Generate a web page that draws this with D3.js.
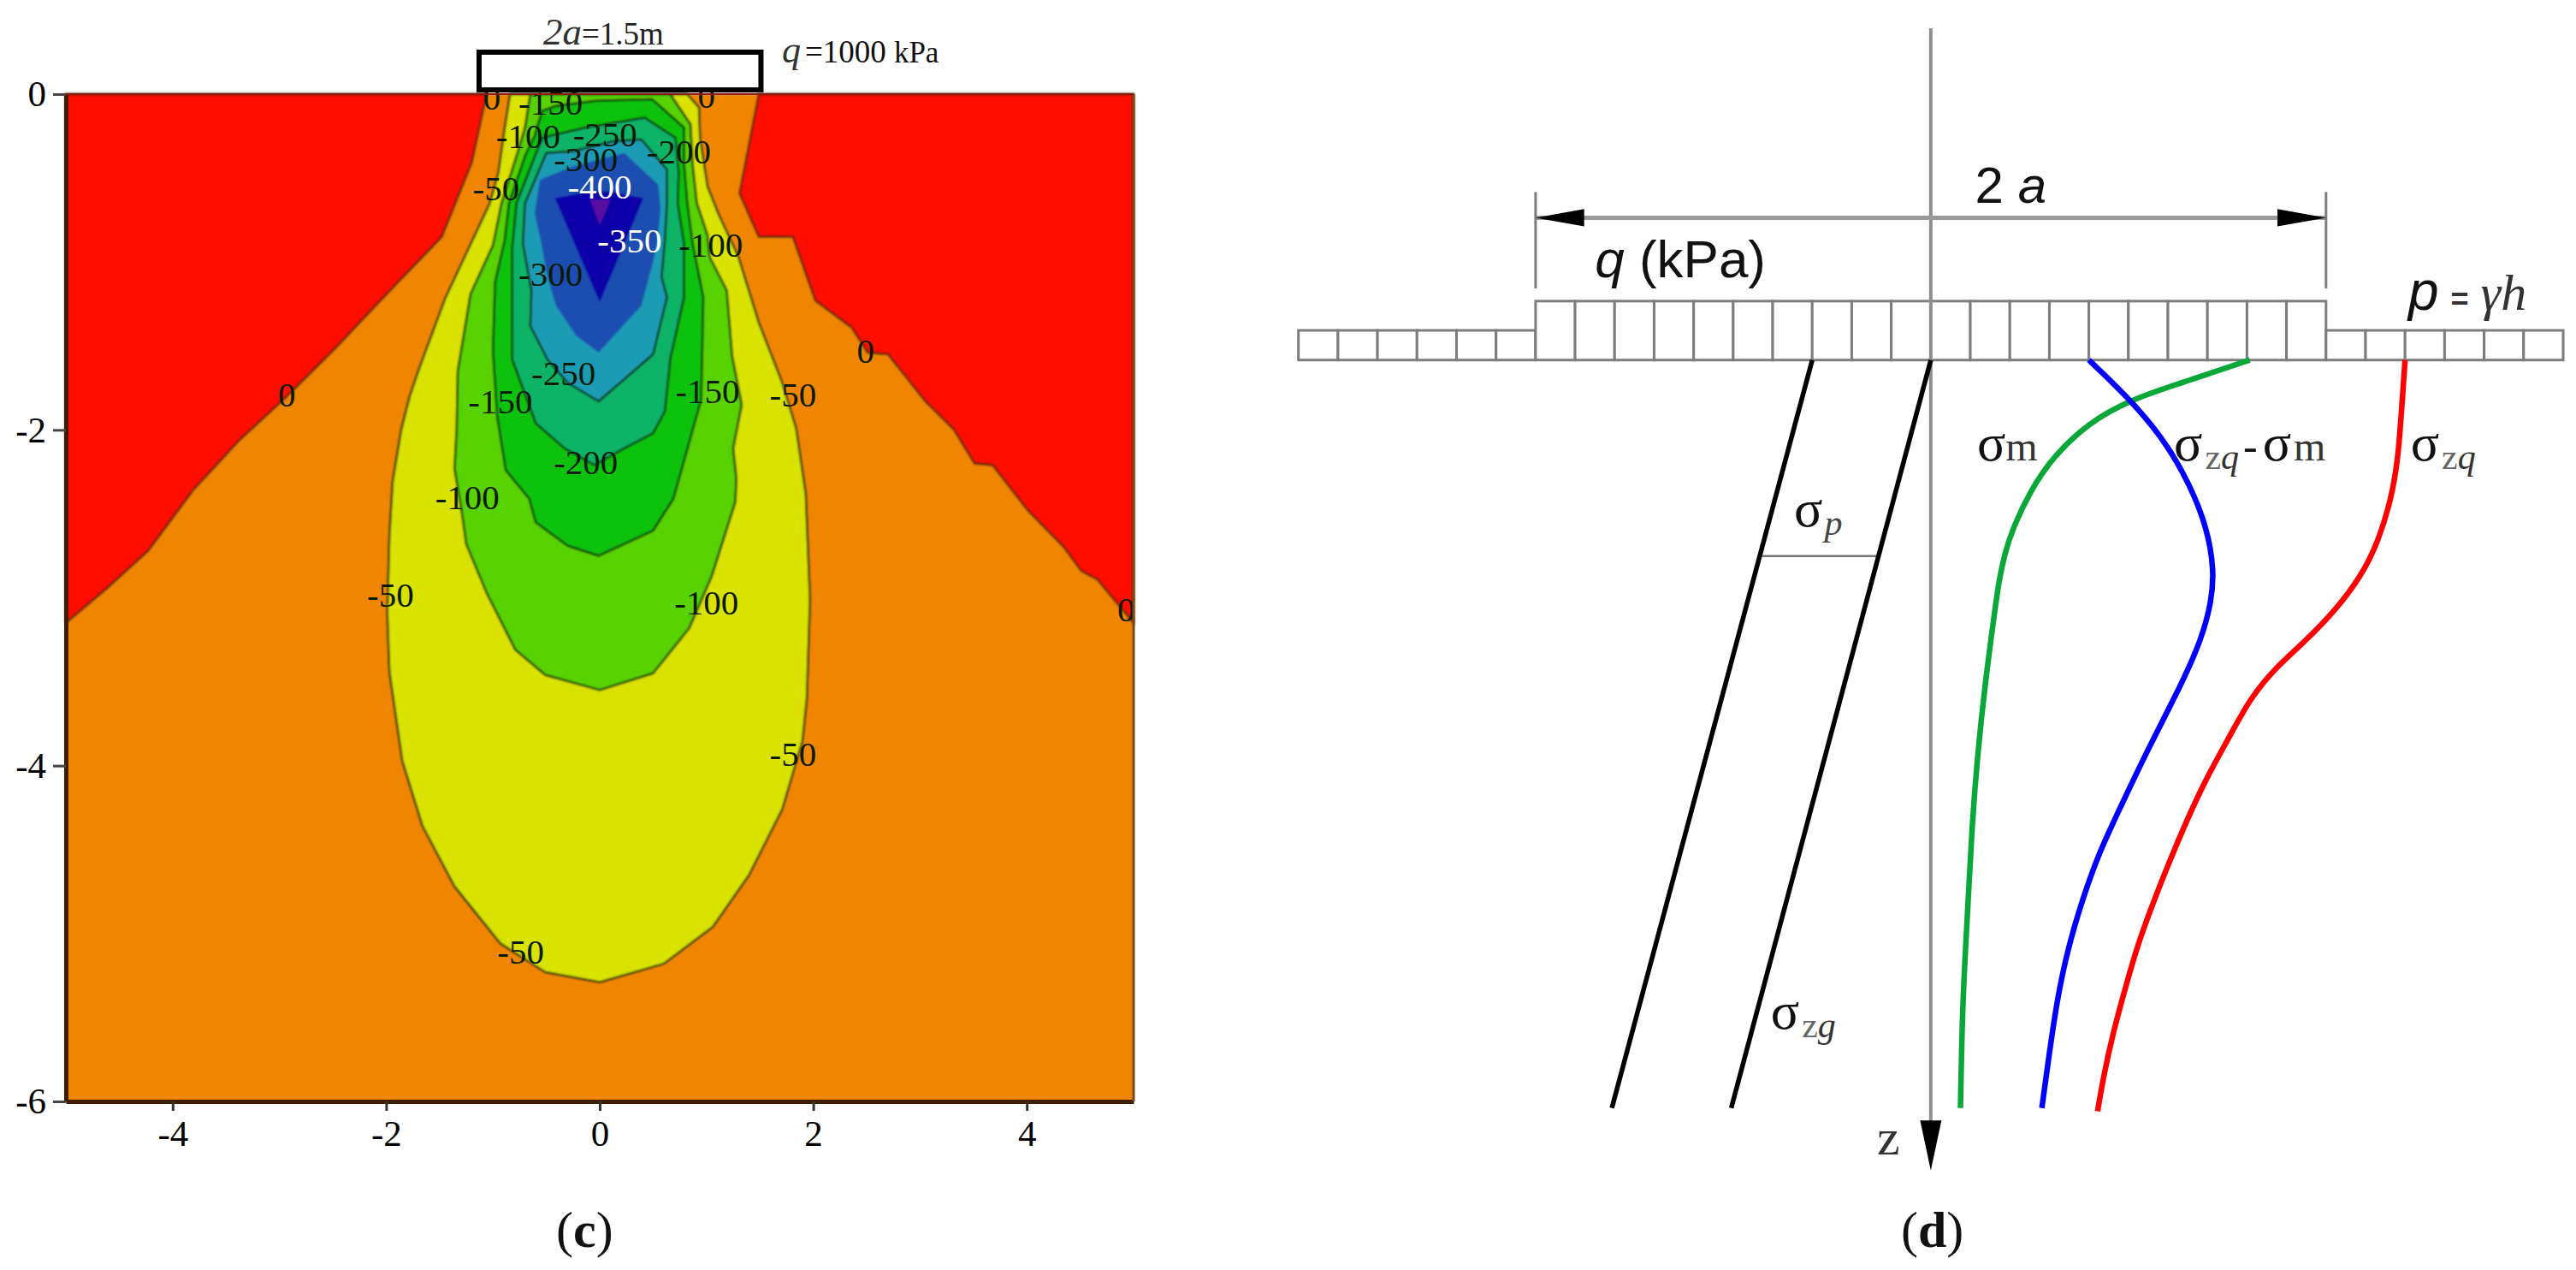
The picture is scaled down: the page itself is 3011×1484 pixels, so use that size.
<!DOCTYPE html>
<html>
<head>
<meta charset="utf-8">
<script src="https://cdn.jsdelivr.net/npm/d3@7"></script>
<style>
    html, body { margin: 0; background: #fff; }
    svg { display: block; }
    text { font-family: "Liberation Serif", serif; fill: #111; }
</style>
</head>
<body>
<svg id="chart" width="3011" height="1484">
    <defs>
        <filter id="soft" x="-2%" y="-2%" width="104%" height="104%"><feGaussianBlur stdDeviation="0.8"/></filter>
    </defs>
</svg>
<script>
// panel c: contour levels (kPa) and colours of the bands
const levels = [-50, -100, -150, -200, -250, -300, -350, -400];
const bandColors = ["#d9e200", "#58d200", "#08c208", "#10b468", "#1a9cb4", "#1a4db0", "#1000a8", "#5a10a0"];
const baseColor = "#f08500";
const redColor = "#ff1100";

// outlines, [x m, z m]
const redLeft = [[-5, 0], [-1.06, 0], [-1.20, -.41], [-1.48, -.85], [-2.01, -1.20], [-2.47, -1.51], [-2.93, -1.80], [-3.39, -2.07], [-3.81, -2.36], [-4.23, -2.72], [-4.61, -2.94], [-5, -3.15]];
const redRight = [[5, 0], [1.49, 0], [1.31, -.59], [1.49, -.85], [1.81, -.85], [2.02, -1.23], [2.36, -1.39], [2.51, -1.54], [2.70, -1.55], [3.05, -1.83], [3.32, -2.0], [3.51, -2.2], [3.68, -2.21], [4.01, -2.48], [4.35, -2.70], [4.51, -2.84], [4.66, -2.89], [5, -3.15]];
const ring50 = [[-.84, 0], [-.89, -.2], [-.95, -.47], [-1.03, -.65], [-1.45, -1.22], [-1.70, -1.65], [-1.78, -1.80], [-1.86, -2.0], [-1.94, -2.31], [-1.97, -2.63], [-1.99, -3.09], [-1.97, -3.44], [-1.85, -3.97], [-1.66, -4.36], [-1.36, -4.72], [-.93, -5.06], [-.51, -5.23], [0, -5.29], [.60, -5.18], [1.06, -4.96], [1.40, -4.65], [1.71, -4.26], [1.90, -3.85], [1.94, -3.60], [1.97, -3.01], [1.93, -2.38], [1.84, -1.99], [1.71, -1.72], [1.49, -1.36], [1.30, -.97], [1.11, -.71], [1.01, -.55], [.94, -.26], [.93, -.08], [.82, 0]];
const ring100 = [[-.65, 0], [-.70, -.20], [-.78, -.37], [-.92, -.65], [-1.0, -.90], [-1.21, -1.19], [-1.33, -1.65], [-1.34, -1.99], [-1.36, -2.23], [-1.29, -2.5], [-1.25, -2.68], [-1.06, -2.97], [-.79, -3.31], [-.51, -3.46], [0, -3.55], [.50, -3.45], [.84, -3.18], [1.05, -2.87], [1.27, -2.43], [1.28, -2.29], [1.25, -2.11], [1.33, -1.85], [1.24, -1.56], [1.19, -1.17], [1.03, -.97], [1.01, -.84], [.91, -.65], [.87, -.42], [.85, -.18], [.66, 0]];
const ring150 = [[-.54, -.10], [-.41, -.07], [-.03, -.04], [.49, -.03], [.79, -.20], [.79, -.42], [.82, -.65], [.87, -.89], [.97, -1.21], [.96, -1.53], [.95, -1.82], [.84, -2.07], [.69, -2.41], [.50, -2.60], [.26, -2.67], [-.01, -2.75], [-.30, -2.69], [-.60, -2.55], [-.66, -2.41], [-.88, -2.24], [-.96, -1.92], [-1.0, -1.53], [-.98, -1.12], [-.89, -.87], [-.85, -.65], [-.70, -.37], [-.61, -.25]];
const ring200 = [[-.54, -.26], [-.14, -.2], [.42, -.14], [.71, -.26], [.74, -.47], [.73, -.65], [.79, -.89], [.79, -1.21], [.66, -1.58], [.65, -1.65], [.61, -1.89], [.50, -2.02], [.23, -2.11], [-.05, -2.21], [-.33, -2.11], [-.60, -1.96], [-.82, -1.58], [-.82, -.92], [-.78, -.65]];
const ring250 = [[-.50, -.35], [-.70, -.65], [-.72, -.89], [-.64, -1.17], [-.65, -1.38], [-.49, -1.58], [-.30, -1.72], [-.01, -1.83], [.50, -1.55], [.63, -1.21], [.58, -1.09], [.61, -.87], [.63, -.65], [.63, -.45], [.39, -.27], [.13, -.28], [-.25, -.34]];
const ring300 = [[-.56, -.51], [-.61, -.71], [-.55, -.88], [-.49, -1.09], [-.41, -1.26], [-.22, -1.44], [-.01, -1.54], [.39, -1.26], [.50, -1.0], [.54, -.87], [.57, -.69], [.55, -.54], [.23, -.35], [-.25, -.43]];
const ring350 = [[-.42, -.62], [-.1, -.58], [.1, -.58], [.41, -.62], [0, -1.24]];
const ring400 = [[-.09, -.63], [.10, -.63], [.0, -.78]];
const rings = [ring50, ring100, ring150, ring200, ring250, ring300, ring350, ring400];

// contour labels: text, x, z
const contourLabels = [
    ["0", -1.01, -.02], ["0", 1.0, -.01], ["0", -2.93, -1.79], ["0", 2.49, -1.53], ["0", 4.93, -3.07],
    ["-150", -.46, -.05], ["-100", -.67, -.25], ["-250", .05, -.24], ["-300", -.13, -.39], ["-200", .74, -.34],
    ["-50", -.97, -.56], ["-100", 1.04, -.90], ["-300", -.46, -1.07], ["-250", -.34, -1.66],
    ["-150", -.93, -1.83], ["-150", 1.01, -1.77], ["-50", 1.81, -1.79], ["-200", -.13, -2.19], ["-100", -1.24, -2.40],
    ["-50", -1.96, -2.98], ["-100", 1.0, -3.03], ["-50", 1.81, -3.93], ["-50", -.74, -5.11]
];
const whiteLabels = [["-400", 0, -.55], ["-350", .28, -.87]];

const xTicks = [-4, -2, 0, 2, 4];
const zTicks = [0, -2, -4, -6];
const footing = [[-1.13, .25], [1.51, .025]];

// panel d, everything in load cell widths from the axis
const cellsLoaded = 10;
const cellsSide = 16;
const loadHeight = 1.49;
const sideHeight = .75;
const sigmaGLeft = [[-3.0, 0], [-8.07, 18.92]];
const sigmaGRight = [[0, 0], [-5.05, 18.92]];
const sigmaTie = [[-4.28, 4.96], [-1.31, 4.96]];
const sigmaM = [[8.07, 0], [6.49, .53], [5.04, 1.0], [3.96, 1.61], [3.10, 2.44], [2.52, 3.30], [2.08, 4.24], [1.87, 4.89], [1.72, 5.61], [1.62, 6.33], [1.37, 8.21], [1.18, 10.01], [1.04, 11.81], [.95, 13.6], [.86, 15.2], [.79, 16.8], [.75, 18.92]];
const sigmaDiff = [[4.0, 0], [4.97, .92], [5.91, 2.01], [6.56, 3.16], [6.99, 4.24], [7.17, 5.32], [7.10, 6.12], [6.85, 7.06], [6.34, 8.21], [5.55, 9.73], [4.83, 11.24], [4.25, 12.47], [3.82, 13.69], [3.46, 14.92], [3.20, 16.15], [2.99, 17.59], [2.81, 18.92]];
const sigmaZq = [[12.0, 0], [11.90, 1.43], [11.82, 2.51], [11.65, 3.52], [11.32, 4.60], [10.89, 5.47], [10.24, 6.33], [9.46, 7.13], [8.72, 7.78], [8.07, 8.57], [7.57, 9.51], [6.92, 10.66], [6.27, 12.11], [5.69, 13.55], [5.26, 14.71], [4.97, 15.71], [4.61, 17.01], [4.36, 18.17], [4.22, 19.0]];

const svg = d3.select("#chart");

// ---- panel c ----
const x = d3.scaleLinear().domain([-5, 5]).range([77, 1325]);
const y = d3.scaleLinear().domain([0, -6]).range([110, 1287]);
const ringLine = d3.line().x(d => x(d[0])).y(d => y(d[1])).curve(d3.curveLinearClosed);

const c = svg.append("g").attr("class", "panelC");
const fills = c.append("g").attr("filter", "url(#soft)");
fills.append("rect")
    .attr("x", x(-5)).attr("y", y(0))
    .attr("width", x(5) - x(-5)).attr("height", y(-6) - y(0))
    .attr("fill", baseColor);

fills.selectAll("path.red")
    .data([redLeft, redRight])
    .join("path")
    .attr("class", "red")
    .attr("d", ringLine)
    .attr("fill", redColor)
    .attr("stroke", "#4a2008")
    .attr("stroke-width", 2.5);

fills.selectAll("path.band")
    .data(rings)
    .join("path")
    .attr("class", "band")
    .attr("data-level", (d, i) => levels[i])
    .attr("d", ringLine)
    .attr("fill", (d, i) => bandColors[i])
    .attr("stroke", (d, i) => i > 4 ? "none" : "#103010")
    .attr("stroke-width", 2.5)
    .attr("stroke-linejoin", "round");

c.selectAll("text.level")
    .data(contourLabels.concat(whiteLabels))
    .join("text")
    .attr("class", "level")
    .attr("x", d => x(d[1]))
    .attr("y", d => y(d[2]))
    .attr("dy", "0.34em")
    .attr("text-anchor", "middle")
    .attr("font-size", 41)
    .style("fill", d => whiteLabels.includes(d) ? "#fff" : "#0a1a08")
    .text(d => d[0]);

// frame: heavier on the left and bottom like the source
const xAxis = d3.axisBottom(x).tickValues(xTicks).tickSize(11).tickSizeOuter(0).tickPadding(10).tickFormat(d => String(d));
const zAxis = d3.axisLeft(y).tickValues(zTicks).tickSize(15).tickSizeOuter(0).tickPadding(8).tickFormat(d => String(d));

const gx = c.append("g").attr("transform", `translate(0,${y(-6)})`).call(xAxis).attr("font-family", "Liberation Serif");
const gz = c.append("g").attr("transform", `translate(${x(-5)},0)`).call(zAxis).attr("font-family", "Liberation Serif");
gx.selectAll("text").attr("font-size", 43).style("fill", "#000");
gz.selectAll("text").attr("font-size", 43).style("fill", "#000");
gx.selectAll(".tick line").attr("stroke", "#333").attr("stroke-width", 3);
gz.selectAll(".tick line").attr("stroke", "#444").attr("stroke-width", 3);
gx.select(".domain").attr("stroke", "#3f1c04").attr("stroke-width", 5);
gz.select(".domain").attr("stroke", "#3f1c04").attr("stroke-width", 5);

c.append("line")
    .attr("x1", x(5)).attr("x2", x(5)).attr("y1", y(0)).attr("y2", y(-6))
    .attr("stroke", "#7a4a10").attr("stroke-width", 3);
c.append("line")
    .attr("x1", x(-5)).attr("x2", x(5)).attr("y1", y(0)).attr("y2", y(0))
    .attr("stroke", "#8a1a08").attr("stroke-width", 2);

c.append("rect")
    .attr("x", x(footing[0][0])).attr("y", y(footing[0][1]))
    .attr("width", x(footing[1][0]) - x(footing[0][0]))
    .attr("height", y(footing[1][1]) - y(footing[0][1]))
    .attr("fill", "#fff").attr("stroke", "#000").attr("stroke-width", 6);

// ---- panel d ----
const xd = d3.scaleLinear().domain([-cellsSide, cellsSide]).range([1517.7, 2996]);
const yd = d3.scaleLinear().domain([0, 19]).range([420.7, 420.7 + 19 * 46.2]);
const d = svg.append("g").attr("class", "panelD");
const gray = "#7d7d7d";

function addSegment(x1, v1, x2, v2, color, width) {
    d.append("line")
        .attr("x1", xd(x1)).attr("y1", yd(v1))
        .attr("x2", xd(x2)).attr("y2", yd(v2))
        .attr("stroke", color).attr("stroke-width", width);
}

// load cells, one rect per cell
const cells = d3.range(-cellsSide, cellsSide);
d.selectAll("rect.cell")
    .data(cells)
    .join("rect")
    .attr("class", "cell")
    .attr("x", u => xd(u))
    .attr("width", u => xd(u + 1) - xd(u))
    .attr("y", u => yd(u >= -cellsLoaded && u < cellsLoaded ? -loadHeight : -sideHeight))
    .attr("height", u => yd(0) - yd(u >= -cellsLoaded && u < cellsLoaded ? -loadHeight : -sideHeight))
    .attr("fill", "#fff").attr("stroke", gray).attr("stroke-width", 3);

// z axis and dimension line
addSegment(0, -8.39, 0, 19.5, "#8f8f8f", 4);
addSegment(-cellsLoaded, -3.6, cellsLoaded, -3.6, "#9a9a9a", 5);
addSegment(-cellsLoaded, -4.25, -cellsLoaded, -1.81, gray, 3);
addSegment(cellsLoaded, -4.25, cellsLoaded, -1.81, gray, 3);

const arrowLine = d3.line().x(p => xd(p[0])).y(p => yd(p[1])).curve(d3.curveLinearClosed);
const arrowHeads = [
    [[-10, -3.6], [-8.77, -3.82], [-8.77, -3.38]],
    [[10, -3.6], [8.77, -3.82], [8.77, -3.38]],
    [[0, 20.5], [-.27, 19.23], [.27, 19.23]]
];
d.selectAll("path.head")
    .data(arrowHeads)
    .join("path")
    .attr("class", "head")
    .attr("d", arrowLine)
    .attr("fill", "#000");

addSegment(sigmaTie[0][0], sigmaTie[0][1], sigmaTie[1][0], sigmaTie[1][1], "#777", 2.5);

const profile = d3.line().x(p => xd(p[0])).y(p => yd(p[1])).curve(d3.curveBasis);
const straight = d3.line().x(p => xd(p[0])).y(p => yd(p[1]));
const profiles = [
    [sigmaGLeft, "#000", 5.5], [sigmaGRight, "#000", 5.5],
    [sigmaM, "#08a838", 6.5], [sigmaDiff, "#0000ff", 6.5], [sigmaZq, "#ff0000", 6.5]
];
d.selectAll("path.profile")
    .data(profiles)
    .join("path")
    .attr("class", "profile")
    .attr("d", p => p[0].length > 2 ? profile(p[0]) : straight(p[0]))
    .attr("fill", "none")
    .attr("stroke", p => p[1])
    .attr("stroke-width", p => p[2]);

// ---- text with mixed runs: [string, family, size, style, weight, dy, fill, dx]
const serif = "Liberation Serif";
const sans = "Liberation Sans";
function addLabel(g, px, py, runs) {
    const t = g.append("text").attr("x", px).attr("y", py);
    runs.forEach(r => {
        t.append("tspan")
            .attr("font-family", r[1])
            .attr("font-size", r[2])
            .attr("font-style", r[3] || "normal")
            .attr("font-weight", r[4] || "normal")
            .attr("dy", r[5] || 0)
            .attr("dx", r[7] || 0)
            .style("fill", r[6] || "#111")
            .text(r[0]);
    });
    return t;
}

addLabel(c, 635, 52, [["2a", serif, 45, "italic", null, 0, "#333"], ["=1.5m", serif, 37, null, null, 0, "#222"]]);
addLabel(c, 914, 73, [["q", serif, 44, "italic", null, 0, "#333"], ["=1000", serif, 37, null, null, 0, "#111", 5], ["kPa", serif, 35, null, null, 0, "#111", 9]]);
addLabel(c, 650, 1457, [["(", serif, 60], ["c", serif, 60, null, "bold"], [")", serif, 60]]);

addLabel(d, xd(1.12), yd(-3.97), [["2 ", sans, 60], ["a", sans, 60, "italic"]]);
addLabel(d, xd(-8.5), yd(-2.09), [["q", sans, 62, "italic"], [" (kPa)", sans, 62]]);
addLabel(d, xd(12.08), yd(-1.27), [["p", sans, 64, "italic"], ["=", sans, 36, null, "bold", 0, "#333", 14], ["γh", serif, 60, "italic", null, 0, "#333", 14]]);

addLabel(d, xd(1.17), yd(2.54), [["σ", serif, 62], ["m", serif, 48, null, null, 0, "#333"]]);
addLabel(d, xd(6.15), yd(2.54), [["σ", serif, 62], ["z", serif, 42, null, null, 10, "#666", 3], ["q", serif, 42, "italic", null, 0, "#333"], ["-", serif, 50, null, null, -10, "#111", 5], ["σ", serif, 62, null, null, 0, "#111", 6], ["m", serif, 48, null, null, 0, "#333", 3]]);
addLabel(d, xd(12.14), yd(2.54), [["σ", serif, 62], ["z", serif, 42, null, null, 10, "#666", 3], ["q", serif, 42, "italic", null, 0, "#333"]]);
addLabel(d, xd(-3.46), yd(4.2), [["σ", serif, 62], ["p", serif, 42, "italic", null, 10, "#444", 2]]);
addLabel(d, xd(-4.05), yd(16.91), [["σ", serif, 62], ["z", serif, 42, null, null, 10, "#666", 3], ["g", serif, 42, "italic", null, 0, "#333"]]);
addLabel(d, xd(-1.36), yd(20.09), [["z", serif, 60, null, null, 0, "#333"]]);
addLabel(d, 2222, 1457, [["(", serif, 60], ["d", serif, 60, null, "bold"], [")", serif, 60]]);
</script>
</body>
</html>
